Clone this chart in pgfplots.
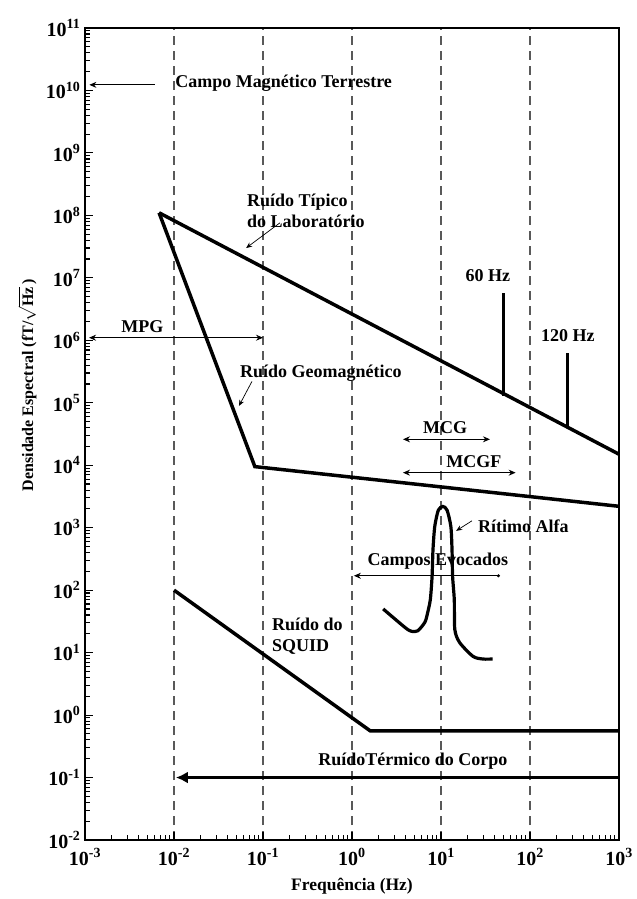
\documentclass[border=0pt]{standalone}
\usepackage{pgfplots}
\pgfplotsset{compat=1.18}
\usetikzlibrary{arrows.meta}
\usepackage{fontspec}
\setmainfont{Liberation Serif}

\newcommand{\tl}[1]{10\textsuperscript{#1}}
\tikzset{
  lbl/.style={font=\fontsize{18}{21}\selectfont\bfseries, inner sep=0pt},
  dbl/.style={black, line width=1.1pt, {Stealth[length=7pt,width=6pt]}-{Stealth[length=7pt,width=6pt]}},
  ptr/.style={black, line width=0.7pt, -{Stealth[length=6pt,width=5pt]}},
}

\begin{document}
\begin{tikzpicture}
\begin{axis}[
  xmode=log, ymode=log,
  width=534pt, height=812pt, scale only axis,
  xmin=1e-3, xmax=1e3, ymin=1e-2, ymax=1e11,
  xtick={1e-3,1e-2,1e-1,1,10,100,1000},
  xticklabels={\tl{-3},\tl{-2},\tl{-1},\tl{0},\tl{1},\tl{2},\tl{3}},
  ytick={1e-2,1e-1,1,10,100,1e3,1e4,1e5,1e6,1e7,1e8,1e9,1e10,1e11},
  yticklabels={\tl{-2},\tl{-1},\tl{0},\tl{1},\tl{2},\tl{3},\tl{4},\tl{5},\tl{6},\tl{7},\tl{8},\tl{9},\tl{10},\tl{11}},
  tick label style={font=\fontsize{20}{23}\selectfont\bfseries},
  xticklabel style={yshift=-5pt},
  yticklabel style={xshift=-1pt},
  tick pos=left, tick align=inside,
  major tick length=8pt, minor tick length=5pt,
  every tick/.style={black, line width=1.1pt},
  axis line style={line width=1.4pt},
  xmajorgrids,
  major x grid style={gray!70!black, line width=1.1pt, dash pattern=on 9pt off 6pt},
  xlabel={Frequência (Hz)},
  xlabel style={font=\fontsize{17.5}{20}\selectfont\bfseries, yshift=-6pt},
  ylabel={Densidade Espectral (fT/$\sqrt{\mbox{Hz}}$\,)},
  ylabel style={font=\fontsize{16}{19}\selectfont\bfseries, at={(axis description cs:-0.108,0.56)}, anchor=center},
  clip=false,
]
% laboratory noise and power-line peaks
\addplot[black, line width=3.5pt] coordinates {(0.0068,1.1e8) (1000,1.5e4)};
\addplot[black, line width=3pt] coordinates {(51,1.3e5) (51,5.7e6)};
\addplot[black, line width=3pt] coordinates {(263,4.2e4) (263,6.3e5)};
% geomagnetic noise
\addplot[black, line width=3.5pt, line join=miter] coordinates {(0.0068,1.1e8) (0.081,9.5e3) (1000,2.2e3)};
% SQUID noise
\addplot[black, line width=3.5pt] coordinates {(0.01,100) (1.6,0.56) (1000,0.56)};
% body thermal noise
\addplot[black, line width=3.5pt, -{Latex[length=12pt,width=12pt]}] coordinates {(1000,0.1) (0.0105,0.1)};
% alpha rhythm
\addplot[black, line width=3.2pt, smooth, tension=0.45] coordinates {
  (2.24,50) (3.98,25) (4.68,21.9) (5.50,22.4) (6.61,30.9) (7.08,43.7) (7.59,70.8)
  (7.94,166) (8.13,447) (8.51,1047) (9.33,1905) (10.5,2188) (11.7,1905)
  (12.9,1047) (13.3,447) (13.5,166) (14.1,70.8) (14.3,23.4) (16.2,14.5)
  (22.9,8.7) (29.5,7.9) (38.0,7.9)};
% ranges
\addplot[black, line width=1.2pt, -{Stealth[length=7pt,width=6pt]}] coordinates {(0.0061,1.23e10) (0.00112,1.23e10)};
\addplot[dbl] coordinates {(0.00111,1.1e6) (0.1,1.1e6)};
\addplot[dbl] coordinates {(3.74,2.6e4) (35.5,2.6e4)};
\addplot[dbl] coordinates {(3.74,7.6e3) (69,7.6e3)};
\addplot[black, line width=1.1pt, {Stealth[length=7pt,width=6pt]}-{Circle[length=3pt]}] coordinates {(1.05,170) (46,170)};
% pointers
\addplot[ptr] coordinates {(0.155,7.6e7) (0.0646,3.0e7)};
\addplot[ptr] coordinates {(0.0752,2.2e5) (0.0537,8.9e4)};
\addplot[ptr] coordinates {(22.3,1.29e3) (14.8,890)};
% labels
\node[lbl, anchor=west] at (axis cs:0.0103,1.3e10) {Campo Magnético Terrestre};
\node[lbl, anchor=west, align=left] at (axis cs:0.066,1.18e8) {Ruído Típico\\do Laboratório};
\node[lbl] at (axis cs:0.0044,1.66e6) {MPG};
\node[lbl, anchor=west] at (axis cs:0.0552,3.0e5) {Ruído Geomagnético};
\node[lbl] at (axis cs:33.7,1.07e7) {60 Hz};
\node[lbl] at (axis cs:267,1.17e6) {120 Hz};
\node[lbl] at (axis cs:11.1,4.0e4) {MCG};
\node[lbl] at (axis cs:23.4,1.15e4) {MCGF};
\node[lbl, anchor=west] at (axis cs:26,1.07e3) {Rítimo Alfa};
\node[lbl] at (axis cs:9.25,286) {Campos Evocados};
\node[lbl, anchor=west, align=left] at (axis cs:0.126,18.6) {Ruído do\\SQUID};
\node[lbl] at (axis cs:4.84,0.18) {RuídoTérmico do Corpo};
\end{axis}
\path (-85pt,-59pt) rectangle (545pt,840pt);
\end{tikzpicture}
\end{document}
